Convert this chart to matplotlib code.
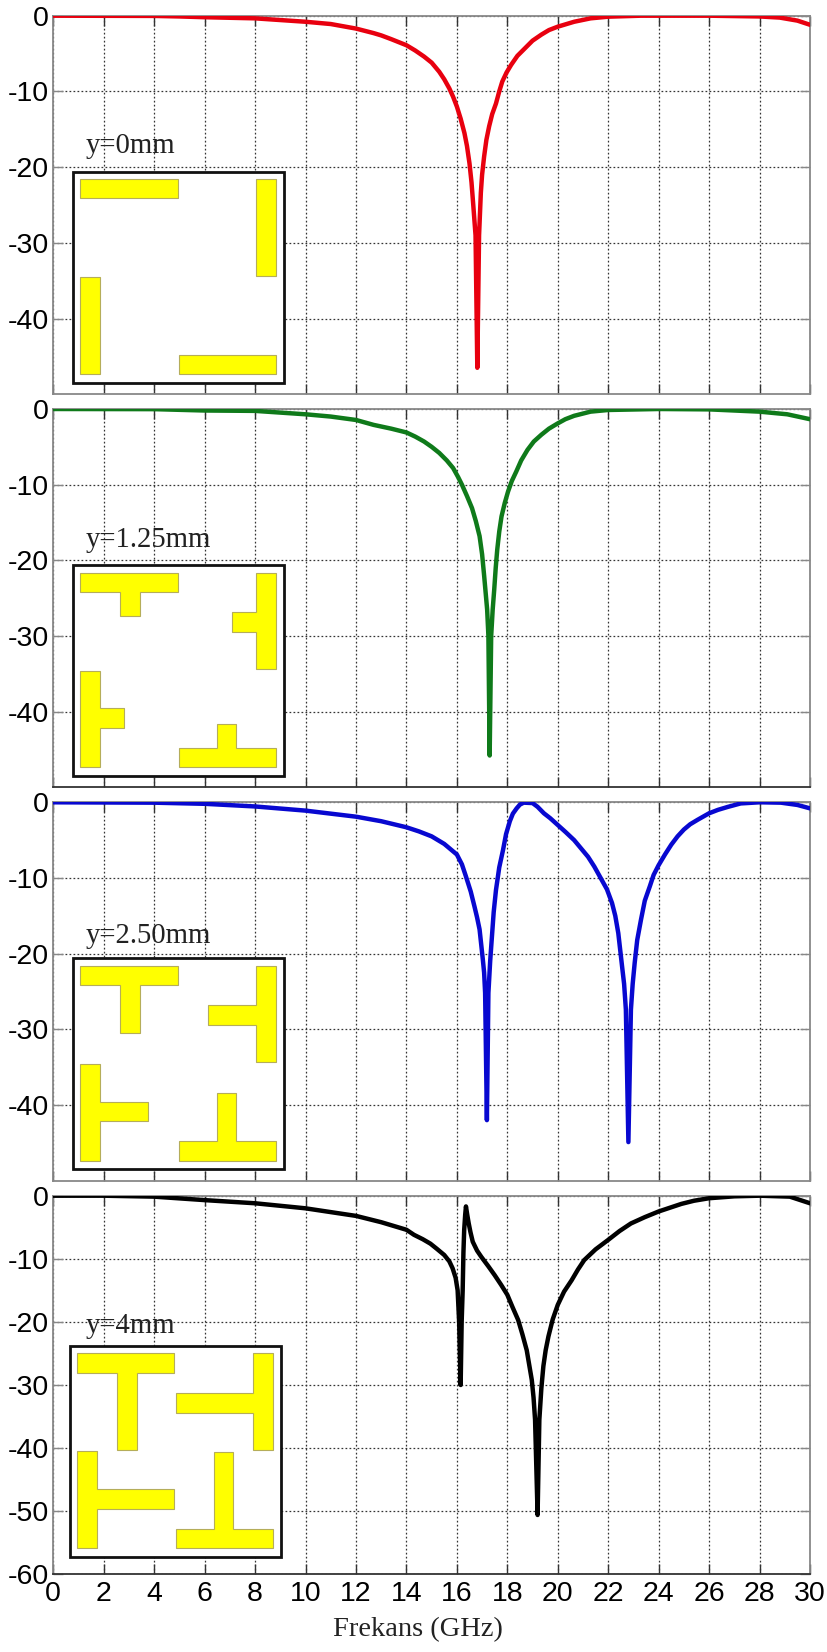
import numpy as np
import matplotlib
matplotlib.use('Agg')
import matplotlib.pyplot as plt
from matplotlib.patches import Polygon, Rectangle

plt.rcParams['font.family'] = ['Liberation Sans', 'DejaVu Sans']
plt.rcParams['axes.unicode_minus'] = False

W, H = 828, 1652

f_red = [0, 4, 5, 6, 8, 10, 11, 12, 12.7, 13, 13.4, 14, 14.35, 14.7, 15, 15.3, 15.5, 15.7, 15.85, 16, 16.15, 16.3, 16.4, 16.5, 16.58, 16.65, 16.74, 16.81,
         16.88, 16.95, 17, 17.08, 17.17, 17.28, 17.4, 17.55, 17.68, 17.8, 17.97, 18.15, 18.4, 18.7, 19, 19.35, 19.65, 20, 20.65, 21.3, 22, 23.3, 26, 28, 28.8, 29.5, 30]
s_red = [0, -0.03, -0.1, -0.2, -0.35, -0.8, -1.1, -1.7, -2.3, -2.6, -3.1, -3.9, -4.6, -5.4, -6.2, -7.4, -8.4, -9.6, -10.7, -12, -13.6, -15.5, -17.2, -19.5, -22, -25, -29, -46.5,
         -29, -23.4, -21, -18.6, -16.4, -14.6, -13, -11.6, -10, -8.7, -7.5, -6.5, -5.3, -4.3, -3.3, -2.5, -1.9, -1.45, -0.8, -0.35, -0.13, 0, 0, -0.1, -0.25, -0.65, -1.2]

f_green = [0, 4, 6, 8, 10, 11, 12, 12.7, 13.4, 13.7, 14, 14.35, 14.7, 15, 15.3, 15.6, 15.85, 16.05, 16.2, 16.4, 16.6, 16.75, 16.9, 17, 17.08, 17.2, 17.25, 17.3,
           17.36, 17.42, 17.48, 17.54, 17.6, 17.68, 17.77, 17.9, 18.03, 18.18, 18.35, 18.55, 18.8, 19.05, 19.35, 19.65, 20, 20.3, 20.65, 21.3, 22, 24, 26, 28, 29.1, 30]
s_green = [0, -0.02, -0.2, -0.25, -0.7, -1.0, -1.45, -2.1, -2.6, -2.85, -3.1, -3.65, -4.3, -5, -5.8, -6.8, -7.8, -9, -10, -11.5, -13.1, -14.8, -16.8, -19.2, -22, -26.5, -30, -45.8,
           -30, -26.5, -23.9, -21, -18.6, -16.2, -14.2, -12.4, -10.9, -9.5, -8.3, -6.8, -5.4, -4.3, -3.4, -2.6, -1.9, -1.35, -0.9, -0.35, -0.13, 0, -0.05, -0.35, -0.7, -1.35]

f_blue = [0, 4, 6, 8, 10, 12, 13, 14, 14.5, 15, 15.5, 16, 16.2, 16.36, 16.55, 16.7, 16.8, 16.9, 17.03, 17.08, 17.12, 17.19,
          17.25, 17.32, 17.38, 17.46, 17.55, 17.68, 17.83, 17.95, 18.1, 18.22, 18.37, 18.5, 18.65, 19, 19.2, 19.45, 19.7, 20, 20.3, 20.65, 20.9, 21.2, 21.45, 21.7, 21.95, 22.15, 22.28, 22.4, 22.55, 22.63, 22.7, 22.8,
          22.9, 22.97, 23.05, 23.15, 23.3, 23.45, 23.65, 23.8, 24, 24.25, 24.5, 24.75, 25, 25.25, 25.55, 26, 26.35, 26.75, 27.25, 28, 28.85, 29.5, 30]
s_blue = [0, -0.05, -0.2, -0.55, -1.1, -1.9, -2.5, -3.3, -3.85, -4.5, -5.5, -6.9, -8.2, -9.8, -11.8, -13.8, -15.2, -16.8, -20.8, -22.5, -25.2, -42,
          -25.2, -21, -18.2, -14.5, -11.6, -8.6, -6.3, -4.2, -2.5, -1.5, -0.8, -0.3, -0.05, -0.1, -0.6, -1.45, -2.1, -3, -3.9, -5, -6, -7.2, -8.5, -10, -11.5, -13.3, -15, -17.3, -21.7, -24, -27.4, -44.9,
          -27.4, -24, -21.2, -18.2, -15.5, -13, -11.1, -9.6, -8.3, -6.9, -5.6, -4.5, -3.6, -2.9, -2.3, -1.45, -1, -0.6, -0.15, 0, -0.05, -0.35, -0.8]

f_black = [0, 2, 4, 6, 8, 10, 12, 13, 14, 14.3, 14.65, 14.95, 15.2, 15.5, 15.7, 15.83, 15.95, 16.03, 16.09, 16.15, 16.19, 16.23, 16.26, 16.29, 16.33, 16.36, 16.41, 16.47, 16.54, 16.63, 16.8, 16.97,
           17.25, 17.5, 17.75, 18, 18.2, 18.43, 18.6, 18.77, 18.97, 19.04, 19.1, 19.2, 19.27, 19.35, 19.43, 19.52, 19.63, 19.8, 20, 20.25, 20.55, 20.8, 21.05, 21.5, 22, 22.45, 22.9, 23.45, 24, 24.9, 25.4, 26, 27, 28, 29.2, 30]
s_black = [0, 0, -0.15, -0.7, -1.2, -2, -3.2, -4.2, -5.4, -6.2, -6.9, -7.6, -8.4, -9.4, -10.4, -11.5, -13, -15, -20, -30, -20, -15, -9, -5.4, -3, -1.7, -3, -4.4, -5.8, -7.3, -8.7, -9.7,
           -11.2, -12.6, -14.1, -15.7, -17.6, -19.7, -22, -24.5, -29.2, -32, -35.5, -50.6, -35.5, -30.5, -27, -24.5, -22.3, -19.6, -17.3, -15.2, -13.4, -11.7, -10.2, -8.5, -7, -5.6, -4.4, -3.4, -2.5, -1.3, -0.8, -0.4, -0.1, 0, -0.15, -1.2]

freqs = [f_red, f_green, f_blue, f_black]
values = [s_red, s_green, s_blue, s_black]
colors = ['#e8000f', '#0f7a1a', '#0808d0', '#000000']
labels = ['y=0mm', 'y=1.25mm', 'y=2.50mm', 'y=4mm']
stems = [0, 24, 48, 77]
ymins = [-50, -50, -50, -60]
xticks = list(range(0, 31, 2))

# panel edges in pixels: top, bottom
panels = [(15.7, 394.3), (409, 787.3), (802.3, 1180.7), (1195.7, 1574.3)]
left, right = 53.3, 810
bottom_col = ['#888888', '#333333', '#888888', '#333333']
# inset boxes: x0, y0, label baseline
insets = [(73, 171.7, 153.3), (73, 565, 546.7), (73, 958.3, 942.7), (69.7, 1345.7, 1333)]
box = 211


def px_axes(fig, x0, y0, x1, y1, **kw):
    return fig.add_axes([x0 / W, 1 - y1 / H, (x1 - x0) / W, (y1 - y0) / H], **kw)


def t_shape(ax, pts):
    ax.add_patch(Polygon(pts, closed=True, fc='#ffff00', ec='#b5ad5a', lw=0.8))


def draw_inset(fig, x0, y0, stem):
    ax = px_axes(fig, x0, y0, x0 + box, y0 + box, zorder=5)
    ax.set_xlim(0, box)
    ax.set_ylim(box, 0)
    ax.set_xticks([])
    ax.set_yticks([])
    for s in ax.spines.values():
        s.set_visible(False)
    ax.add_patch(Rectangle((0, 0), box, box, fc='white', ec='#111111', lw=2.0, clip_on=False))
    if stem == 0:
        t_shape(ax, [(7.5, 7.6), (104.5, 7.6), (104.5, 26.8), (7.5, 26.8)])
        t_shape(ax, [(183.3, 7.6), (203, 7.6), (203, 104), (183.3, 104)])
        t_shape(ax, [(7.5, 105.6), (27.2, 105.6), (27.2, 202.4), (7.5, 202.4)])
        t_shape(ax, [(106, 183), (203, 183), (203, 202.4), (106, 202.4)])
        return
    t_shape(ax, [(7.5, 7.6), (104.5, 7.6), (104.5, 26.8), (67, 26.8), (67, 26.8 + stem), (47.3, 26.8 + stem),
                 (47.3, 26.8), (7.5, 26.8)])
    t_shape(ax, [(183.3, 7.6), (203, 7.6), (203, 104), (183.3, 104), (183.3, 66.8), (183.3 - stem, 66.8),
                 (183.3 - stem, 47.2), (183.3, 47.2)])
    t_shape(ax, [(7.5, 105.6), (27.2, 105.6), (27.2, 143.4), (27.2 + stem, 143.4), (27.2 + stem, 162.8),
                 (27.2, 162.8), (27.2, 202.4), (7.5, 202.4)])
    t_shape(ax, [(106, 183), (144, 183), (144, 183 - stem), (163.4, 183 - stem), (163.4, 183), (203, 183),
                 (203, 202.4), (106, 202.4)])


fig = plt.figure(figsize=(W / 100, H / 100), dpi=100)

for i in range(4):
    top, bot = panels[i]
    ax = px_axes(fig, left, top, right, bot)
    ax.plot(freqs[i], values[i], color=colors[i], lw=3.2, solid_capstyle='round', solid_joinstyle='round', zorder=3)
    ax.set_xlim(0, 30)
    ax.set_ylim(ymins[i], 0)
    ax.set_xticks(xticks)
    ax.set_yticks(list(range(ymins[i], 1, 10)) if i == 3 else list(range(-40, 1, 10)))
    ax.grid(True, color='#333333', lw=0.9, linestyle=(0, (1.4, 1.8)))
    ax.set_axisbelow(True)
    ax.tick_params(axis='x', direction='in', length=7, width=1.0, color='#333333', top=True,
                   labelbottom=(i == 3), labelsize=20.5, pad=5)
    ax.tick_params(axis='y', direction='in', length=7, width=1.0, color='#888888', right=True,
                   labelsize=20.5, pad=3)
    for s in ['top', 'left', 'right']:
        ax.spines[s].set_color('#888888')
        ax.spines[s].set_linewidth(1.3)
    ax.spines['bottom'].set_color(bottom_col[i])
    ax.spines['bottom'].set_linewidth(1.3)

    x0, y0, base = insets[i]
    draw_inset(fig, x0, y0, stems[i])
    fig.text(86 / W, 1 - base / H, labels[i], family=['Liberation Serif', 'DejaVu Serif'], fontsize=20.7,
             color='#222222', ha='left', va='baseline', zorder=6)

fig.text(418 / W, 1 - 1630 / H, 'Frekans (GHz)', family=['Liberation Serif', 'DejaVu Serif'], fontsize=20.5,
         color='#222222', ha='center', va='center')

fig.savefig('out.png', dpi=100)
